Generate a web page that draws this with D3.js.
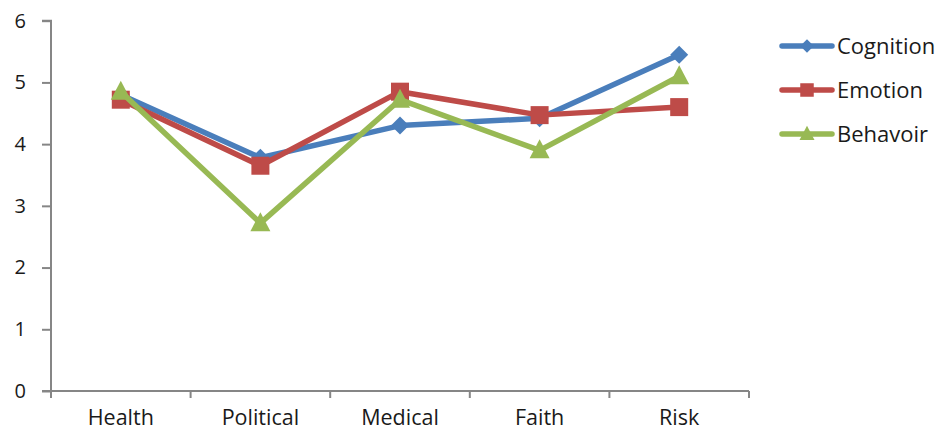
<!DOCTYPE html>
<html>
<head>
<meta charset="utf-8">
<script src="https://cdn.jsdelivr.net/npm/d3@7"></script>
<style>
  html, body { margin: 0; padding: 0; background: #fff; }
  svg { display: block; }
</style>
</head>
<body>
<svg id="chart" width="941" height="432"></svg>
<script>
// Chart data
const categories = ["Health", "Political", "Medical", "Faith", "Risk"];
const seriesNames = ["Cognition", "Emotion", "Behavoir"];
const cognition = [4.80, 3.78, 4.30, 4.42, 5.45];
const emotion   = [4.72, 3.65, 4.85, 4.47, 4.60];
const behavoir  = [4.85, 2.72, 4.72, 3.90, 5.10];
const yTicks = [0, 1, 2, 3, 4, 5, 6];

const series = [
  { name: seriesNames[0], values: cognition, color: "#4A7EBB", marker: "diamond" },
  { name: seriesNames[1], values: emotion,   color: "#BE4B48", marker: "square" },
  { name: seriesNames[2], values: behavoir,  color: "#98B954", marker: "triangle" }
];

const svg = d3.select("#chart");
const font = "'Open Sans', sans-serif";
const textColor = "#1a1a1a";
const plotLeft = 51, plotRight = 749, plotTop = 20.7, plotBottom = 391;

const x = d3.scaleBand().domain(categories).range([plotLeft, plotRight]).paddingInner(0).paddingOuter(0);
const y = d3.scaleLinear().domain([0, 6]).range([plotBottom, plotTop]);

// Y axis
const yAxis = svg.append("g")
  .attr("transform", `translate(${plotLeft},0)`)
  .call(d3.axisLeft(y).tickValues(yTicks).tickSize(9).tickPadding(16).tickFormat(d3.format("d")));
// X axis
const xAxis = svg.append("g")
  .attr("transform", `translate(0,${plotBottom})`)
  .call(d3.axisBottom(x).tickSize(0).tickPadding(19));

// category boundary ticks on the x axis
const bounds = categories.map(c => x(c)).concat([plotRight]);
xAxis.selectAll(".bound").data(bounds).enter().append("line")
  .attr("class", "bound")
  .attr("x1", d => d).attr("x2", d => d)
  .attr("y1", 0).attr("y2", 7)
  .attr("stroke", "#868686").attr("stroke-width", 2);

[yAxis, xAxis].forEach(g => {
  g.select(".domain").attr("stroke", "#868686").attr("stroke-width", 2);
  g.selectAll(".tick line").attr("stroke", "#868686").attr("stroke-width", 2);
  g.selectAll("text").attr("fill", textColor).style("font-family", font);
});
yAxis.selectAll("text").style("font-size", "20px");
xAxis.selectAll("text").style("font-size", "21.5px");
yAxis.select(".domain").attr("d", `M-9,${plotTop}H0V${plotBottom}`);
xAxis.select(".domain").attr("d", `M${plotLeft - 9},0H${plotRight}`);

const cx = c => x(c) + x.bandwidth() / 2;

// marker shapes; k scales the marker size
function drawMarker(g, type, px, py, color, k) {
  if (type === "diamond") {
    const h = 9 * k;
    g.append("path").attr("d", `M${px},${py - h}L${px + h},${py}L${px},${py + h}L${px - h},${py}Z`)
      .attr("fill", color);
  } else if (type === "square") {
    const h = 9 * k;
    g.append("rect").attr("x", px - h).attr("y", py - h).attr("width", 2 * h).attr("height", 2 * h)
      .attr("fill", color);
  } else {
    const w = 10 * k, up = 11 * k, dn = 8 * k;
    g.append("path").attr("d", `M${px},${py - up}L${px + w},${py + dn}L${px - w},${py + dn}Z`)
      .attr("fill", color);
  }
}

const line = d3.line().x((d, i) => cx(categories[i])).y(d => y(d));

series.forEach(s => {
  const g = svg.append("g");
  g.append("path").datum(s.values).attr("d", line)
    .attr("fill", "none").attr("stroke", s.color).attr("stroke-width", 5.5)
    .attr("stroke-linejoin", "round").attr("stroke-linecap", "round");
  s.values.forEach((v, i) => drawMarker(g, s.marker, cx(categories[i]), y(v), s.color, 1));
});

// Legend
const legend = svg.append("g");
series.forEach((s, i) => {
  const ly = 46 + i * 44;
  const g = legend.append("g");
  g.append("line").attr("x1", 782).attr("x2", 832).attr("y1", ly).attr("y2", ly)
    .attr("stroke", s.color).attr("stroke-width", 5.5).attr("stroke-linecap", "round");
  drawMarker(g, s.marker, 807, ly, s.color, 0.75);
  g.append("text").attr("x", 837).attr("y", ly).attr("dy", "0.35em")
    .attr("fill", textColor).style("font-family", font).style("font-size", "22px")
    .text(s.name);
});
</script>
</body>
</html>
